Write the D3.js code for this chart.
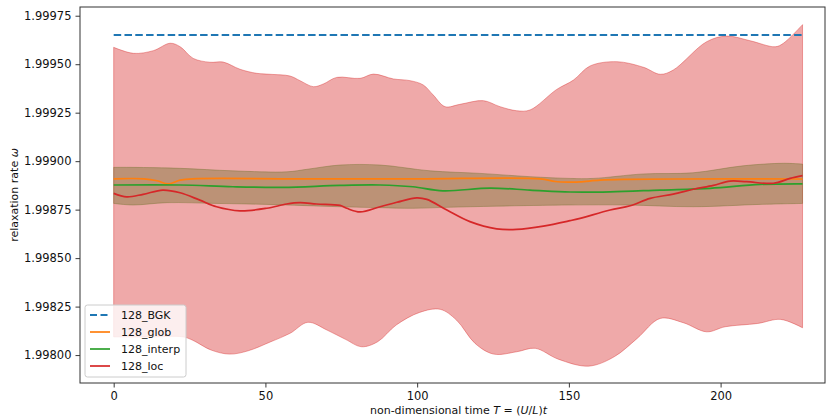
<!DOCTYPE html>
<html><head><meta charset="utf-8">
<script src="https://cdn.jsdelivr.net/npm/d3@7"></script>
<style>body{margin:0;background:#fff}</style>
</head><body><svg id="c" width="826" height="419"></svg>
<script>
// ---------- data ----------
const seriesNames = ["128_BGK", "128_glob", "128_interp", "128_loc"];
const seriesColors = ["#1f77b4", "#ff7f0e", "#2ca02c", "#d62728"];
const xTicks = [0, 50, 100, 150, 200];
const yTicks = [1.998, 1.99825, 1.9985, 1.99875, 1.999, 1.99925, 1.9995, 1.99975];

const bgkT = [0, 227];
const bgkV = [1.99965, 1.99965];

const globT = [0, 10, 14.3, 17.9, 21.9, 26, 60, 100, 140.5, 145.5, 150.4, 153.7, 160.3, 169.2, 185, 227];
const globV = [1.998909, 1.998909, 1.998899, 1.998883, 1.998902, 1.998909, 1.998909, 1.998909, 1.998909, 1.998895, 1.998892, 1.998893, 1.998902, 1.998906, 1.998908, 1.998908];

const interpT = [0, 21.9, 39.3, 55.8, 74.6, 87.8, 98.6, 108.5, 124.0, 137.2, 150.4, 163.6, 180.1, 196.6, 213.0, 227];
const interpV = [1.998877, 1.998877, 1.998868, 1.998865, 1.998875, 1.998877, 1.998868, 1.998847, 1.998861, 1.998851, 1.998841, 1.998842, 1.998851, 1.998860, 1.998880, 1.998883];

const interpUpperT = [0, 6.4, 21.9, 39.3, 57.1, 63.7, 74.6, 87.8, 104.3, 120.7, 137.2, 150.4, 158.0, 174.5, 190.9, 207.4, 220.6, 227];
const interpUpperV = [1.998968, 1.998968, 1.998963, 1.998950, 1.998945, 1.998958, 1.998980, 1.998980, 1.998950, 1.998937, 1.998920, 1.998911, 1.998911, 1.998934, 1.998940, 1.998976, 1.998989, 1.998985];
const interpLowerT = [0, 6.4, 17.6, 34.0, 50.5, 74.6, 87.8, 98.6, 109.9, 126.3, 150.4, 169.2, 190.9, 213.0, 227];
const interpLowerV = [1.998782, 1.998774, 1.998786, 1.998782, 1.998777, 1.998765, 1.998760, 1.998757, 1.998762, 1.998768, 1.998774, 1.998774, 1.998765, 1.998777, 1.998782];

const locT = [0, 4.3, 9.7, 16.2, 21.9, 28.4, 33.9, 41.6, 50.4, 57.0, 61.4, 66.9, 74.6, 76.8, 81.2, 87.8, 93.3, 99.9, 103.2, 109.8, 117.4, 126.2, 132.8, 141.6, 150.4, 153.7, 163.6, 170.2, 176.8, 184.4, 191.0, 197.6, 203.1, 208.6, 217.4, 222.9, 227];
const locV = [1.998834, 1.998816, 1.998829, 1.998851, 1.998837, 1.998799, 1.998765, 1.998744, 1.998757, 1.998779, 1.998786, 1.998779, 1.998772, 1.998757, 1.998738, 1.998765, 1.998788, 1.998811, 1.998803, 1.998748, 1.998688, 1.998651, 1.998648, 1.998665, 1.998693, 1.998705, 1.998748, 1.998770, 1.998808, 1.998830, 1.998855, 1.998875, 1.998897, 1.998894, 1.998886, 1.998911, 1.998925];

const locUpperT = [0, 6.5, 13.1, 18.6, 21.9, 26.2, 31.7, 36.1, 41.6, 47.1, 51.5, 58.1, 61.4, 65.8, 69.1, 73.5, 81.2, 85.6, 92.2, 97.7, 102.0, 105.3, 109.2, 114.1, 121.8, 127.3, 132.8, 137.2, 146.0, 151.5, 157.0, 165.8, 174.6, 180.1, 184.4, 195.4, 202.0, 209.7, 218.0, 220.7, 227];
const locUpperV = [1.999587, 1.999556, 1.999570, 1.999608, 1.999590, 1.999530, 1.999510, 1.999511, 1.999474, 1.999453, 1.999448, 1.999439, 1.999415, 1.999384, 1.999398, 1.999432, 1.999427, 1.999449, 1.999424, 1.999415, 1.999393, 1.999341, 1.999281, 1.999293, 1.999312, 1.999281, 1.999260, 1.999264, 1.999370, 1.999418, 1.999491, 1.999513, 1.999484, 1.999448, 1.999470, 1.999616, 1.999645, 1.999621, 1.999590, 1.999608, 1.999704];
const locLowerT = [0, 12, 22.8, 26.0, 32.1, 38.2, 44.3, 51.8, 58.1, 64.0, 70.3, 76.4, 81.7, 87.0, 93.1, 100.8, 107.6, 113.0, 119.1, 125.2, 132.8, 138.9, 146.5, 156.5, 164.9, 172.5, 180.1, 187.7, 195.4, 201.5, 212.2, 219.8, 227];
const locLowerV = [1.998094, 1.998093, 1.998094, 1.998077, 1.998026, 1.998005, 1.998022, 1.998069, 1.998112, 1.998169, 1.998129, 1.998081, 1.998043, 1.998069, 1.998155, 1.998220, 1.998236, 1.998180, 1.998060, 1.998005, 1.998017, 1.998035, 1.997979, 1.997943, 1.997991, 1.998086, 1.998189, 1.998167, 1.998120, 1.998146, 1.998163, 1.998184, 1.998141];

// ---------- layout ----------
const W = 826, H = 419;
const m = {left: 80, top: 7, right: 825, bottom: 383};
const x = d3.scaleLinear().domain([-11.1, 234.4]).range([m.left, m.right]);
const y = d3.scaleLinear().domain([1.997856, 1.999795]).range([m.bottom, m.top]);
const FONT = "DejaVu Sans, sans-serif";

const svg = d3.select("#c");
const zip = (T, V) => T.map((t, i) => [t, V[i]]);
const line = d3.line().x(d => x(d[0])).y(d => y(d[1])).curve(d3.curveCatmullRom.alpha(0.5));

function bandPath(UT, UV, LT, LV) {
  const up = line(zip(UT, UV));
  const lo = line(zip(LT, LV).reverse());
  return up + "L" + lo.slice(1) + "Z";
}

const plot = svg.append("g");
// interp band (green, alpha 0.4)
plot.append("path")
  .attr("d", bandPath(interpUpperT, interpUpperV, interpLowerT, interpLowerV))
  .attr("fill", seriesColors[2]).attr("fill-opacity", 0.4)
  .attr("stroke", seriesColors[2]).attr("stroke-opacity", 0.4).attr("stroke-width", 1);
// loc band (red, alpha 0.4)
plot.append("path")
  .attr("d", bandPath(locUpperT, locUpperV, locLowerT, locLowerV))
  .attr("fill", seriesColors[3]).attr("fill-opacity", 0.4)
  .attr("stroke", seriesColors[3]).attr("stroke-opacity", 0.4).attr("stroke-width", 1);

// lines
const lineData = [zip(bgkT, bgkV), zip(globT, globV), zip(interpT, interpV), zip(locT, locV)];
lineData.forEach((d, i) => {
  plot.append("path").attr("d", line(d)).attr("fill", "none")
    .attr("stroke", seriesColors[i]).attr("stroke-width", i === 0 ? 2 : 1.7)
    .attr("stroke-dasharray", i === 0 ? "7.5,3.3" : null)
    .attr("stroke-linejoin", "round");
});

// axes
const xAxis = svg.append("g").attr("transform", `translate(0,${m.bottom})`)
  .call(d3.axisBottom(x).tickValues(xTicks).tickFormat(d3.format("d")).tickSize(4.5).tickPadding(4));
const yAxis = svg.append("g").attr("transform", `translate(${m.left},0)`)
  .call(d3.axisLeft(y).tickValues(yTicks).tickFormat(d3.format(".5f")).tickSize(4.5).tickPadding(4));
[xAxis, yAxis].forEach(a => {
  a.select(".domain").remove();
  a.selectAll("line").attr("stroke", "#222").attr("stroke-width", 0.9);
  a.selectAll("text").attr("font-family", FONT).attr("font-size", 11.5).attr("fill", "#111");
});

// frame
svg.append("rect").attr("x", m.left).attr("y", m.top)
  .attr("width", m.right - m.left).attr("height", m.bottom - m.top)
  .attr("fill", "none").attr("stroke", "#333").attr("stroke-width", 1);

// axis labels
const xl = svg.append("text").attr("x", (m.left + m.right) / 2 + 6).attr("y", 414)
  .attr("text-anchor", "middle").attr("font-family", FONT).attr("font-size", 11).attr("fill", "#111");
xl.append("tspan").text("non-dimensional time ");
xl.append("tspan").attr("font-style", "italic").text("T");
xl.append("tspan").text(" = (");
xl.append("tspan").attr("font-style", "italic").text("U");
xl.append("tspan").text("/");
xl.append("tspan").attr("font-style", "italic").text("L");
xl.append("tspan").text(")");
xl.append("tspan").attr("font-style", "italic").text("t");

const yl = svg.append("text").attr("transform", `translate(18,${(m.top + m.bottom) / 2}) rotate(-90)`)
  .attr("text-anchor", "middle").attr("font-family", FONT).attr("font-size", 11).attr("fill", "#111");
yl.append("tspan").text("relaxation rate ");
yl.append("tspan").attr("font-style", "italic").text("ω");

// legend
const lg = svg.append("g");
lg.append("rect").attr("x", 85).attr("y", 305).attr("width", 101).attr("height", 72)
  .attr("rx", 2.5).attr("fill", "#fff").attr("fill-opacity", 0.8)
  .attr("stroke", "#ccc").attr("stroke-width", 1);
seriesNames.forEach((n, i) => {
  const yy = 315 + i * 17;
  lg.append("line").attr("x1", 90).attr("x2", 110).attr("y1", yy).attr("y2", yy)
    .attr("stroke", seriesColors[i]).attr("stroke-width", i === 0 ? 2 : 1.7)
    .attr("stroke-dasharray", i === 0 ? "7,3.5" : null);
  lg.append("text").attr("x", 121).attr("y", yy).attr("dy", "0.35em")
    .attr("font-family", FONT).attr("font-size", 11).attr("fill", "#111").text(n);
});
</script>
</body></html>
